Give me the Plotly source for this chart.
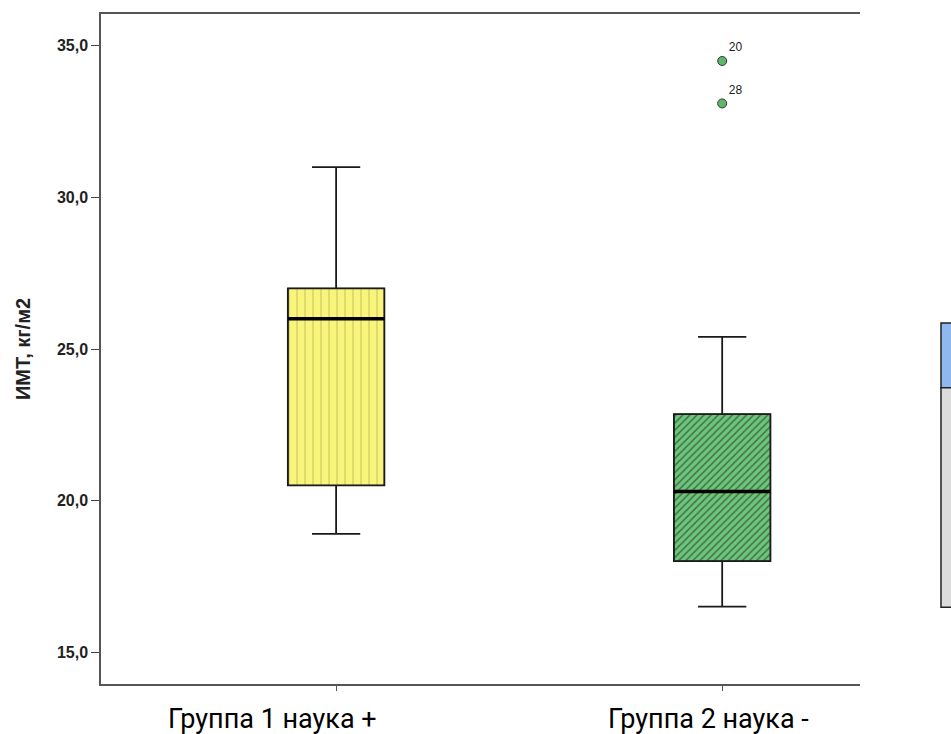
import plotly.graph_objects as go

groups = ["Группа 1 наука +", "Группа 2 наука -"]
q1 = [20.5, 18.0]
median = [26.0, 20.3]
q3 = [27.0, 22.85]
lower = [18.9, 16.5]
upper = [31.0, 25.4]
outlier_y = [34.5, 33.1]
outlier_ids = ["20", "28"]
outlier_group = [1, 1]
y_ticks = [15, 20, 25, 30, 35]

fills = ["#f8f47c", "#6cc77a"]
patterns = ["|", "/"]
pat_fg = ["rgba(80,80,10,0.75)", "#1a1a1a"]
pat_size = [8, 5]
pat_sol = [0.1, 0.3]

BW = 0.25
xs = list(range(len(groups)))

fig = go.Figure()

for i in xs:
    fig.add_trace(go.Bar(
        x=[i], y=[q3[i] - q1[i]], base=[q1[i]], width=BW,
        marker=dict(color=fills[i], line=dict(color="#222", width=1),
                    pattern=dict(shape=patterns[i], fgcolor=pat_fg[i], size=pat_size[i],
                                 solidity=pat_sol[i], fillmode="overlay")),
        showlegend=False, hoverinfo="skip"))

fig.add_trace(go.Box(
    x=xs, q1=q1, median=median, q3=q3, lowerfence=lower, upperfence=upper,
    width=BW, whiskerwidth=0.5, fillcolor="rgba(0,0,0,0)",
    line=dict(color="#1a1a1a", width=1.8), boxpoints=False, showlegend=False))

for i in xs:
    fig.add_trace(go.Scatter(
        x=[i - BW / 2, i + BW / 2], y=[median[i], median[i]], mode="lines",
        line=dict(color="black", width=3.5), showlegend=False, hoverinfo="skip"))

fig.add_trace(go.Scatter(
    x=outlier_group, y=outlier_y, mode="markers+text", text=outlier_ids,
    textposition="top right", textfont=dict(family="Liberation Sans", size=12, color="#222"),
    marker=dict(color="#5fb86a", size=9, line=dict(color="#333", width=1)),
    showlegend=False))

label_shift = [-64, -14]
for i in xs:
    fig.add_annotation(x=i, xref="x", y=-0.052, yref="paper", yanchor="middle",
                       xshift=label_shift[i], text=groups[i], showarrow=False,
                       font=dict(family="Liberation Sans Narrow, Roboto", size=27, color="black"))

# partially visible element at right edge
fig.add_shape(type="rect", xref="paper", yref="paper", x0=1.1067, x1=1.13, y0=0.442, y1=0.5387,
              fillcolor="#8fb8ee", line=dict(color="#222", width=1.5))
fig.add_shape(type="rect", xref="paper", yref="paper", x0=1.1067, x1=1.13, y0=0.1146, y1=0.442,
              fillcolor="#dcdcdc", line=dict(color="#222", width=1.5))

fig.update_layout(
    width=951, height=734,
    margin=dict(l=101, r=91, t=12, b=50),
    paper_bgcolor="white", plot_bgcolor="white",
    separators=",.",
    barmode="overlay",
    xaxis=dict(range=[-0.609, 1.357], tickvals=xs, showticklabels=False,
               ticks="outside", ticklen=5, tickcolor="#555", showgrid=False, zeroline=False,
               showline=True, linecolor="#555", linewidth=1.5, mirror=True),
    yaxis=dict(range=[13.95, 36.05], tickvals=y_ticks, tickformat=".1f",
               ticks="outside", ticklen=8, tickcolor="#444", showgrid=False, zeroline=False,
               showline=True, linecolor="#555", linewidth=1.5,
               tickfont=dict(family="Liberation Sans", size=16, color="#222", weight="bold"),
               title=dict(text="<b>ИМТ, кг/м2</b>", standoff=21,
                          font=dict(family="Liberation Sans", size=20, color="#222"))),
)

fig.write_html("out.html", config={"displayModeBar": False},
               post_script="document.body.style.margin='0';document.body.style.overflow='hidden';")
